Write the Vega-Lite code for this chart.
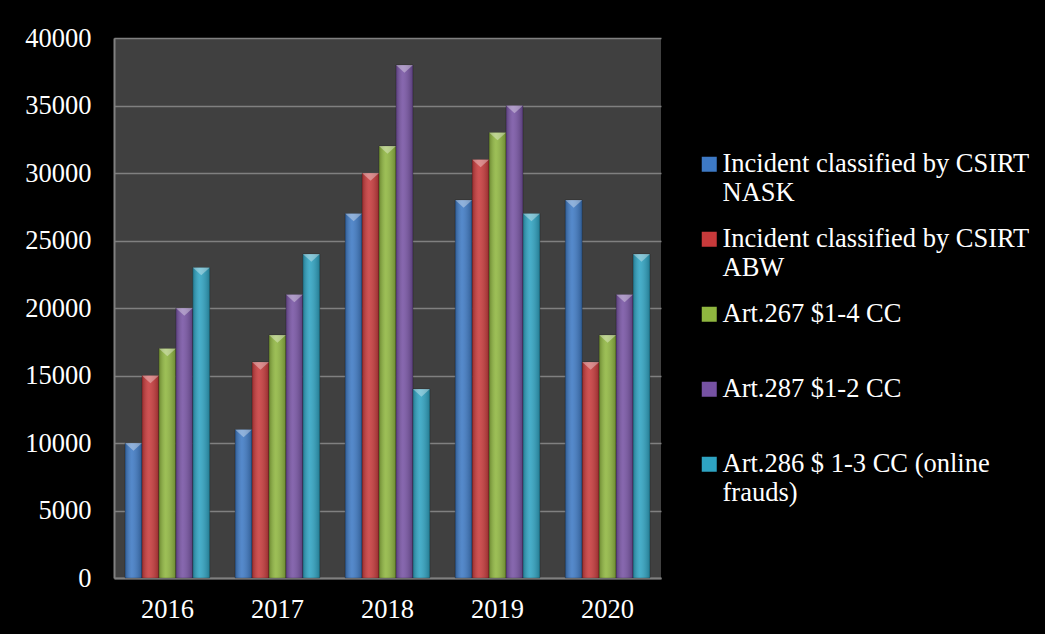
{
  "$schema": "https://vega.github.io/schema/vega-lite/v6.json",
  "width": 547,
  "height": 540,
  "autosize": {"type": "none"},
  "padding": {"left": 114, "top": 38, "right": 384, "bottom": 56},
  "background": "#000000",
  "config": {
    "view": {"fill": "#404040", "stroke": null},
    "font": "Liberation Serif"
  },
  "data": {
    "values": [
      {"year": "2016", "series": "Incident classified by CSIRT NASK", "count": 10000},
      {"year": "2016", "series": "Incident classified by CSIRT ABW", "count": 15000},
      {"year": "2016", "series": "Art.267 $1-4 CC", "count": 17000},
      {"year": "2016", "series": "Art.287 $1-2 CC", "count": 20000},
      {"year": "2016", "series": "Art.286 $ 1-3 CC (online frauds)", "count": 23000},
      {"year": "2017", "series": "Incident classified by CSIRT NASK", "count": 11000},
      {"year": "2017", "series": "Incident classified by CSIRT ABW", "count": 16000},
      {"year": "2017", "series": "Art.267 $1-4 CC", "count": 18000},
      {"year": "2017", "series": "Art.287 $1-2 CC", "count": 21000},
      {"year": "2017", "series": "Art.286 $ 1-3 CC (online frauds)", "count": 24000},
      {"year": "2018", "series": "Incident classified by CSIRT NASK", "count": 27000},
      {"year": "2018", "series": "Incident classified by CSIRT ABW", "count": 30000},
      {"year": "2018", "series": "Art.267 $1-4 CC", "count": 32000},
      {"year": "2018", "series": "Art.287 $1-2 CC", "count": 38000},
      {"year": "2018", "series": "Art.286 $ 1-3 CC (online frauds)", "count": 14000},
      {"year": "2019", "series": "Incident classified by CSIRT NASK", "count": 28000},
      {"year": "2019", "series": "Incident classified by CSIRT ABW", "count": 31000},
      {"year": "2019", "series": "Art.267 $1-4 CC", "count": 33000},
      {"year": "2019", "series": "Art.287 $1-2 CC", "count": 35000},
      {"year": "2019", "series": "Art.286 $ 1-3 CC (online frauds)", "count": 27000},
      {"year": "2020", "series": "Incident classified by CSIRT NASK", "count": 28000},
      {"year": "2020", "series": "Incident classified by CSIRT ABW", "count": 16000},
      {"year": "2020", "series": "Art.267 $1-4 CC", "count": 18000},
      {"year": "2020", "series": "Art.287 $1-2 CC", "count": 21000},
      {"year": "2020", "series": "Art.286 $ 1-3 CC (online frauds)", "count": 24000}
    ]
  },
  "encoding": {
    "x": {
      "field": "year",
      "type": "nominal",
      "scale": {"paddingInner": 0.23, "paddingOuter": 0.1},
      "axis": {
        "title": null,
        "labelAngle": 0,
        "labelFontSize": 26.5,
        "labelColor": "#ffffff",
        "labelPadding": 18,
        "ticks": false,
        "grid": false,
        "domainColor": "#808080",
        "domainWidth": 2
      }
    },
    "xOffset": {
      "field": "series",
      "type": "nominal",
      "sort": ["Incident classified by CSIRT NASK", "Incident classified by CSIRT ABW", "Art.267 $1-4 CC", "Art.287 $1-2 CC", "Art.286 $ 1-3 CC (online frauds)"],
      "scale": {"paddingInner": 0, "paddingOuter": 0}
    },
    "y": {
      "field": "count",
      "type": "quantitative",
      "scale": {"domain": [0, 40000]},
      "axis": {
        "title": null,
        "tickCount": 8,
        "format": "d",
        "labelFontSize": 26.5,
        "labelColor": "#ffffff",
        "labelPadding": 23,
        "ticks": false,
        "grid": true,
        "gridColor": "#808080",
        "gridWidth": 1.5,
        "domainColor": "#808080",
        "domainWidth": 2
      }
    }
  },
  "layer": [
    {
      "mark": {"type": "bar", "stroke": "#000000", "strokeOpacity": 0.25, "strokeWidth": 1},
      "encoding": {
        "color": {
          "field": "series",
          "type": "nominal",
          "scale": {
            "domain": ["Incident classified by CSIRT NASK", "Incident classified by CSIRT ABW", "Art.267 $1-4 CC", "Art.287 $1-2 CC", "Art.286 $ 1-3 CC (online frauds)"],
            "range": ["#3d79c4", "#c83a3b", "#8fb63f", "#7652a3", "#2ea3c2"]
          },
          "legend": {
            "title": null,
            "orient": "none",
            "legendX": 582,
            "legendY": 113,
            "padding": 0,
            "symbolType": "square",
            "symbolSize": 225,
            "symbolStrokeWidth": 0,
            "labelFontSize": 26.5,
            "labelColor": "#ffffff",
            "labelFont": "Liberation Serif",
            "labelOffset": 0,
            "labelLimit": 400,
            "labelLineHeight": 30,
            "labelBaseline": "middle",
            "rowPadding": 19,
            "labelExpr": "datum.label == 'Incident classified by CSIRT NASK' ? ['Incident classified by CSIRT', 'NASK'] : datum.label == 'Incident classified by CSIRT ABW' ? ['Incident classified by CSIRT', 'ABW'] : datum.label == 'Art.286 $ 1-3 CC (online frauds)' ? ['Art.286 $ 1-3 CC (online', 'frauds)'] : [datum.label, '']"
          }
        }
      }
    },
    {
      "mark": {
        "type": "bar",
        "strokeWidth": 0,
        "color": {
          "gradient": "linear", "x1": 0, "y1": 0, "x2": 1, "y2": 0,
          "stops": [
            {"offset": 0, "color": "rgba(0,0,0,0.25)"},
            {"offset": 0.4, "color": "rgba(255,255,255,0.12)"},
            {"offset": 1, "color": "rgba(0,0,0,0.25)"}
          ]
        }
      }
    },
    {
      "mark": {"type": "point", "shape": "M-1,0L1,0L0,0.9Z", "filled": true, "fill": "#ffffff", "opacity": 0.35, "size": 289, "strokeWidth": 0}
    }
  ]
}
